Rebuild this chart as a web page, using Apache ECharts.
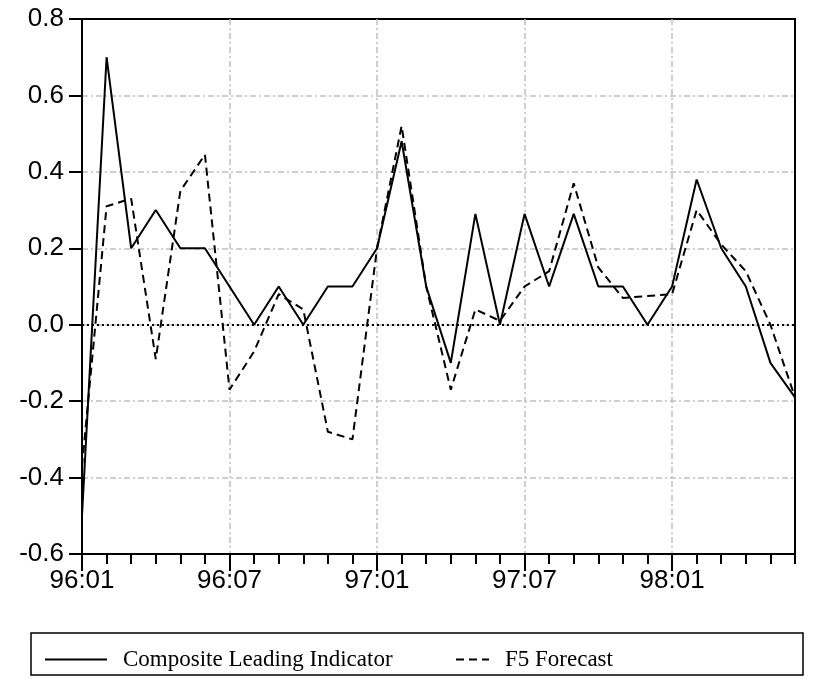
<!DOCTYPE html>
<html>
<head>
<meta charset="utf-8">
<script src="https://cdn.jsdelivr.net/npm/echarts@6/dist/echarts.min.js"></script>
<style>html,body{margin:0;padding:0;background:#fff;}#c{width:819px;height:679px;}</style>
</head>
<body>
<div id="c"></div>
<script>
var months = ['96:01','96:02','96:03','96:04','96:05','96:06','96:07','96:08','96:09','96:10','96:11','96:12',
              '97:01','97:02','97:03','97:04','97:05','97:06','97:07','97:08','97:09','97:10','97:11','97:12',
              '98:01','98:02','98:03','98:04','98:05','98:06'];
var compositeLeading = [-0.5, 0.7, 0.2, 0.3, 0.2, 0.2, 0.1, 0.0, 0.1, 0.0, 0.1, 0.1,
                        0.2, 0.48, 0.1, -0.1, 0.29, 0.0, 0.29, 0.1, 0.29, 0.1, 0.1, 0.0,
                        0.1, 0.38, 0.2, 0.1, -0.1, -0.19];
var f5Forecast = [-0.37, 0.31, 0.33, -0.09, 0.35, 0.445, -0.17, -0.07, 0.08, 0.04, -0.28, -0.3,
                  0.2, 0.52, 0.1, -0.17, 0.04, 0.01, 0.1, 0.14, 0.37, 0.15, 0.07, 0.075,
                  0.08, 0.3, 0.21, 0.14, 0.0, -0.19];
var seriesNames = ['Composite Leading Indicator', 'F5 Forecast'];

var chart = echarts.init(document.getElementById('c'));
var gridDash = [6, 3, 2, 3];
var legendText = { fontFamily: 'Liberation Serif', fontSize: 23, color: '#000', padding: [0, 0, 0, 11] };
var legendItem = { color: 'rgba(0,0,0,0)', borderWidth: 0, opacity: 0 };
chart.setOption({
  animation: false,
  backgroundColor: '#fff',
  grid: { left: 82, top: 19, right: 24, bottom: 125, show: true, borderColor: '#000', borderWidth: 2 },
  legend: [
    { data: [seriesNames[0]], left: 39, top: 643, itemWidth: 62, itemHeight: 20,
      itemStyle: legendItem, textStyle: legendText },
    { data: [seriesNames[1]], left: 450, top: 643, itemWidth: 33, itemHeight: 20,
      itemStyle: legendItem, textStyle: legendText }
  ],
  graphic: [
    { type: 'rect', shape: { x: 31, y: 633, width: 772, height: 42 },
      style: { fill: 'none', stroke: '#000', lineWidth: 1.5 }, silent: true }
  ],
  xAxis: [
    { type: 'category', data: months, boundaryGap: false, position: 'bottom',
      axisLine: { onZero: false, lineStyle: { color: '#000', width: 2 } },
      axisTick: { interval: 5, length: 17, lineStyle: { color: '#000', width: 2 } },
      axisLabel: { interval: 5, margin: 14, fontFamily: 'Liberation Sans', fontSize: 26, color: '#000' },
      splitLine: { show: true, interval: 5, lineStyle: { color: '#c0c0c0', width: 1.5, type: gridDash } } },
    { type: 'category', data: months, boundaryGap: false, position: 'bottom',
      axisLine: { show: false, onZero: false },
      axisTick: { interval: 0, length: 10, lineStyle: { color: '#000', width: 2 } },
      axisLabel: { show: false }, splitLine: { show: false } }
  ],
  yAxis: {
    type: 'value', min: -0.6, max: 0.8, interval: 0.2,
    axisLine: { show: true, lineStyle: { color: '#000', width: 2 } },
    axisTick: { show: true, length: 13, lineStyle: { color: '#000', width: 2 } },
    axisLabel: { margin: 18, fontFamily: 'Liberation Sans', fontSize: 26, color: '#000',
      formatter: function (v) { return (Math.round(v * 10) / 10).toFixed(1); } },
    splitLine: { show: true, showMinLine: false, showMaxLine: false,
      lineStyle: { color: '#c0c0c0', width: 1.5, type: gridDash } }
  },
  series: [
    { name: seriesNames[0], type: 'line', data: compositeLeading, symbol: 'none',
      lineStyle: { color: '#000', width: 2 }, itemStyle: { color: '#000' },
      markLine: { silent: true, symbol: 'none', label: { show: false },
        lineStyle: { color: '#000', width: 2, type: [2, 3] }, data: [{ yAxis: 0 }] } },
    { name: seriesNames[1], type: 'line', data: f5Forecast, symbol: 'none',
      lineStyle: { color: '#000', width: 2, type: [8, 5] }, itemStyle: { color: '#000' } }
  ]
});
</script>
</body>
</html>
